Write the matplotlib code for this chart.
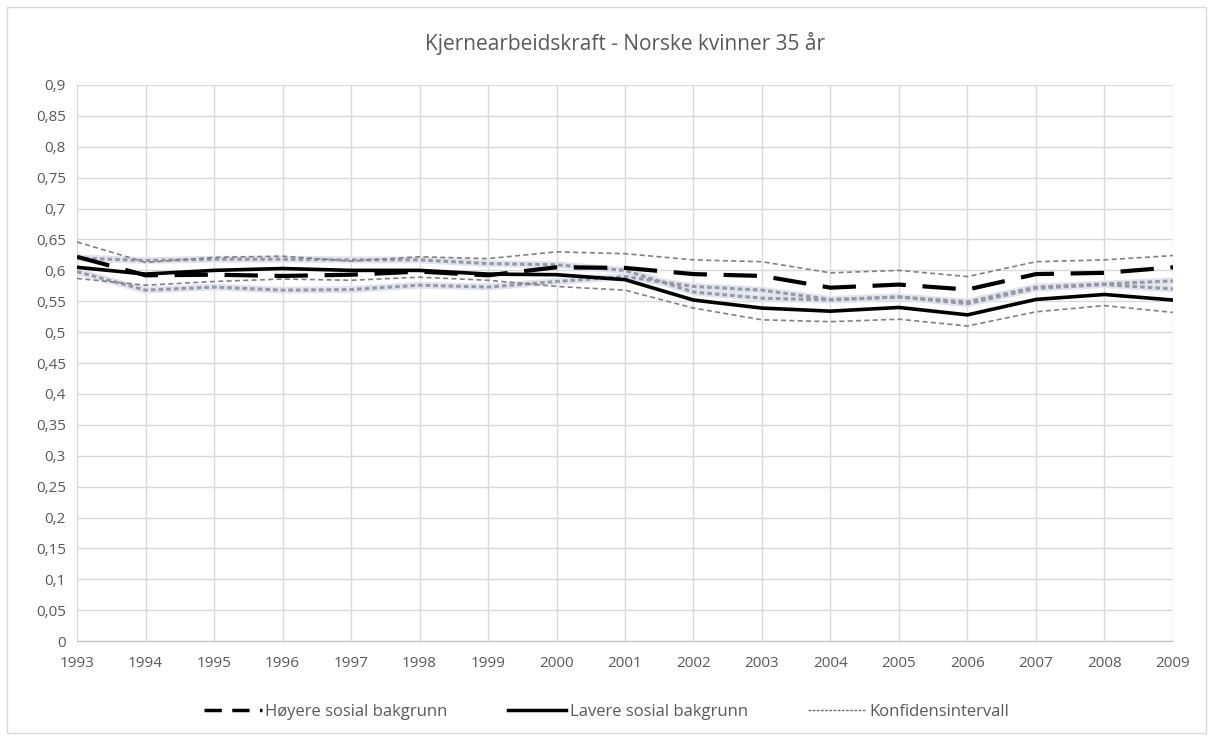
import numpy as np
import matplotlib.pyplot as plt
from matplotlib.lines import Line2D
from matplotlib.patches import Rectangle
from matplotlib.ticker import FuncFormatter

plt.rcParams['font.family'] = ['Open Sans', 'DejaVu Sans']

years = list(range(1993, 2010))

# Høyere sosial bakgrunn + konfidensintervall
hoy = [0.622, 0.592, 0.593, 0.591, 0.593, 0.598, 0.592, 0.605, 0.604,
       0.594, 0.591, 0.572, 0.577, 0.569, 0.594, 0.596, 0.605]
hoy_upper = [0.646, 0.613, 0.621, 0.623, 0.615, 0.622, 0.619, 0.630, 0.627,
             0.617, 0.614, 0.596, 0.600, 0.590, 0.614, 0.617, 0.624]
hoy_lower = [0.598, 0.568, 0.573, 0.568, 0.569, 0.576, 0.573, 0.582, 0.590,
             0.574, 0.568, 0.553, 0.557, 0.549, 0.573, 0.578, 0.583]

# Lavere sosial bakgrunn + konfidensintervall
lav = [0.605, 0.594, 0.600, 0.603, 0.600, 0.600, 0.594, 0.593, 0.585,
       0.552, 0.539, 0.534, 0.540, 0.528, 0.553, 0.561, 0.552]
lav_upper = [0.620, 0.616, 0.618, 0.618, 0.617, 0.617, 0.611, 0.609, 0.600,
             0.565, 0.555, 0.552, 0.557, 0.546, 0.571, 0.577, 0.570]
lav_lower = [0.587, 0.576, 0.582, 0.586, 0.584, 0.589, 0.584, 0.574, 0.568,
             0.539, 0.520, 0.517, 0.521, 0.510, 0.533, 0.543, 0.532]

yticks = np.arange(0, 0.901, 0.05)

fig = plt.figure(figsize=(12.13, 7.37), dpi=100)
fig.patches.append(Rectangle((0.006, 0.006), 0.988, 0.985, transform=fig.transFigure,
                             fill=False, edgecolor='#d9d9d9', linewidth=1))
ax = fig.add_axes([0.0635, 0.130, 0.9035, 0.7547])

# inner confidence bounds (greyish with soft halo)
for s in [hoy_lower, lav_upper]:
    ax.plot(years, s, color='#dfe4ee', linewidth=5, solid_capstyle='round', zorder=2)
    ax.plot(years, s, color='#9599a3', linewidth=2.2, dashes=(1.5, 1), zorder=3)

# outer confidence bounds
for s in [hoy_upper, lav_lower]:
    ax.plot(years, s, color='#808080', linewidth=1.2, dashes=(3, 2), zorder=3)

ax.plot(years, lav, color='black', linewidth=2.6, zorder=4)
ax.plot(years, hoy, color='black', linewidth=3, dashes=(8, 4), zorder=5)

ax.set_xlim(1993, 2009)
ax.set_ylim(0, 0.9)
ax.set_xticks(years)
ax.set_yticks(yticks)
ax.yaxis.set_major_formatter(FuncFormatter(lambda v, p: ('%g' % round(v, 2)).replace('.', ',')))
ax.grid(True, color='#d9d9d9', linewidth=1)
ax.set_axisbelow(True)
for sp in ['top', 'right', 'left']:
    ax.spines[sp].set_visible(False)
ax.spines['bottom'].set_color('#bfbfbf')
ax.tick_params(length=0, labelsize=11, labelcolor='#595959')
ax.tick_params(axis='x', pad=11)
ax.tick_params(axis='y', pad=8)

ax.set_title('Kjernearbeidskraft - Norske kvinner 35 år', fontsize=15, color='#595959', pad=25)

handles = [
    Line2D([], [], color='black', linewidth=2.5, dashes=(5, 3)),
    Line2D([], [], color='black', linewidth=2.5),
    Line2D([], [], color='#707070', linewidth=1, dashes=(2, 1)),
]
labels = ['Høyere sosial bakgrunn', 'Lavere sosial bakgrunn', 'Konfidensintervall']
fig.legend(handles, labels, loc='center', bbox_to_anchor=(0.5, 0.034), ncol=3,
           frameon=False, fontsize=12, labelcolor='#595959', handlelength=3.5,
           handletextpad=0.2, columnspacing=3.6)

fig.savefig('out.png', dpi=100)
